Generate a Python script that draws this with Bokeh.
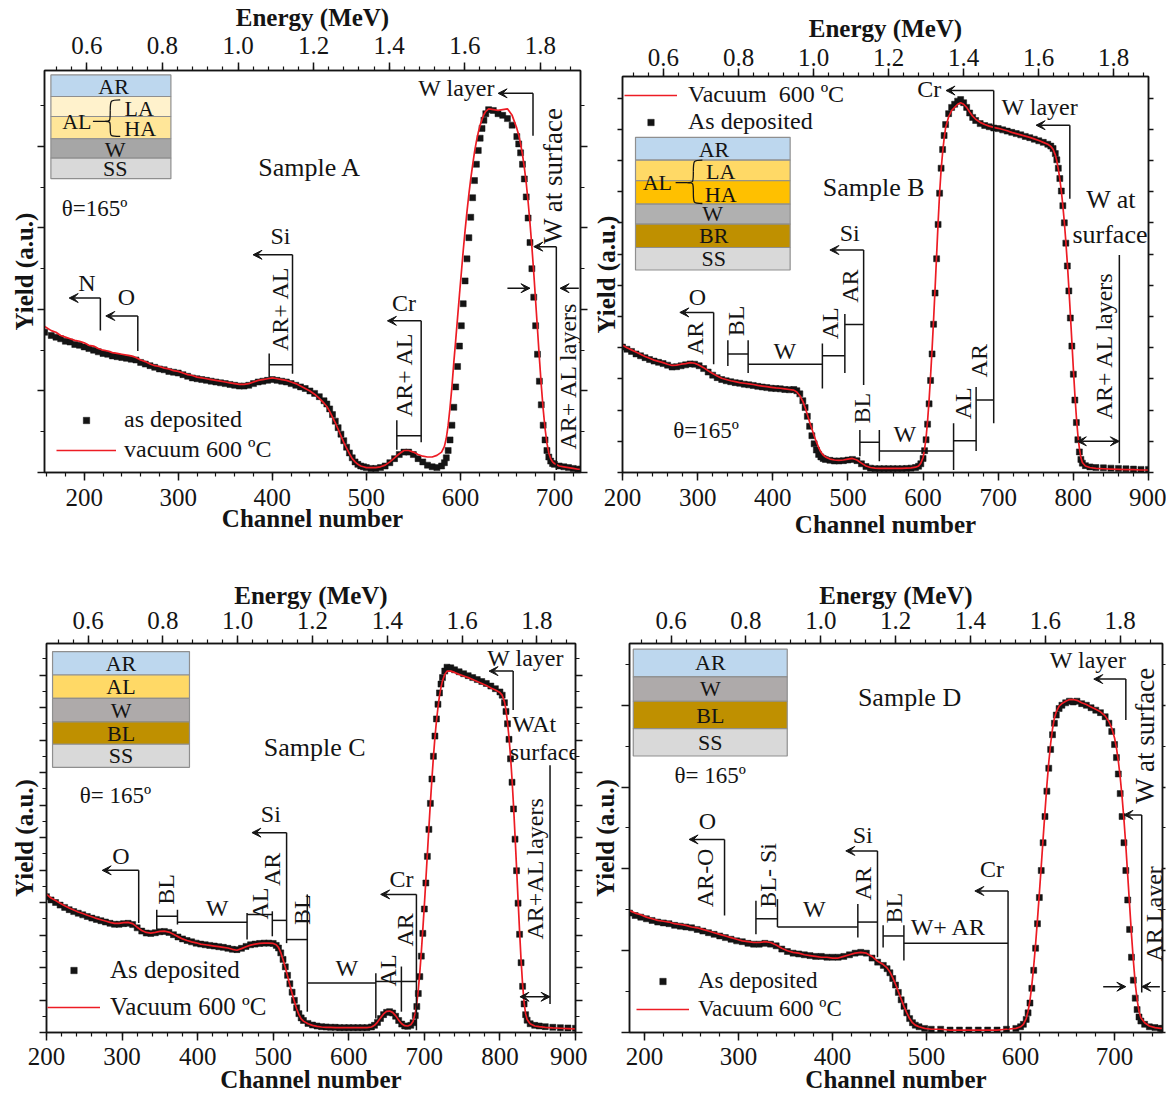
import numpy as np
from bokeh.core.properties import value
from bokeh.embed import file_html
from bokeh.layouts import column, row
from bokeh.models import (Arrow, FixedTicker, Label, Legend, LegendItem,
                          LinearAxis, PrintfTickFormatter, Range1d, VeeHead)
from bokeh.plotting import figure
from bokeh.resources import INLINE

SERIF = "Liberation Serif"
INK = "#141414"
RED = "#ed1c24"

# ---------------------------------------------------------------- axes ticks
ENERGY_TICKS = [0.6, 0.8, 1.0, 1.2, 1.4, 1.6, 1.8]
ENERGY_MINOR = [round(0.52 + 0.04 * i, 2) for i in range(35)]
CHANNEL_TICKS = [200, 300, 400, 500, 600, 700, 800, 900]
CHANNEL_MINOR = list(range(160, 901, 20))

# ---------------------------------------------------------------- Sample A
CH_A = [158, 165, 170, 175, 180, 185, 190, 195, 200, 205,
        210, 215, 220, 225, 230, 235, 240, 245, 250, 255,
        260, 265, 270, 275, 280, 285, 290, 295, 300, 305,
        310, 315, 320, 325, 330, 335, 340, 345, 350, 355,
        360, 365, 370, 375, 380, 385, 390, 395, 400, 405,
        410, 415, 420, 425, 430, 435, 440, 445, 450, 455,
        458, 461, 464, 467, 470, 473, 476, 479, 482, 485,
        488, 491, 494, 497, 500, 505, 510, 515, 520, 525,
        530, 535, 540, 545, 550, 555, 560, 565, 570, 575,
        580, 583, 585, 587, 589, 591, 593, 595, 597, 599,
        601, 603, 605, 607, 609, 611, 613, 615, 617, 619,
        621, 623, 625, 627, 630, 635, 640, 645, 650, 655,
        660, 662, 664, 666, 668, 670, 672, 674, 676, 678,
        680, 682, 684, 686, 688, 690, 692, 694, 696, 698,
        700, 705, 710, 715, 720, 725, 728]
DEP_A = [1.72, 1.68, 1.66, 1.64, 1.61, 1.60, 1.57, 1.56, 1.54, 1.52,
         1.50, 1.48, 1.46, 1.45, 1.43, 1.42, 1.41, 1.40, 1.39, 1.38,
         1.35, 1.33, 1.31, 1.29, 1.27, 1.26, 1.24, 1.23, 1.22, 1.20,
         1.18, 1.16, 1.15, 1.14, 1.13, 1.12, 1.11, 1.10, 1.09, 1.08,
         1.07, 1.06, 1.06, 1.07, 1.09, 1.11, 1.12, 1.13, 1.14, 1.13,
         1.12, 1.11, 1.09, 1.07, 1.05, 1.03, 1.00, 0.97, 0.93, 0.88,
         0.84, 0.78, 0.71, 0.63, 0.55, 0.47, 0.39, 0.31, 0.24, 0.18,
         0.13, 0.10, 0.08, 0.07, 0.06, 0.05, 0.05, 0.06, 0.08, 0.12,
         0.17, 0.22, 0.25, 0.25, 0.22, 0.17, 0.13, 0.09, 0.07, 0.06,
         0.08, 0.12, 0.18, 0.27, 0.40, 0.58, 0.80, 1.05, 1.30, 1.55,
         1.80, 2.07, 2.35, 2.62, 2.88, 3.13, 3.37, 3.58, 3.78, 3.95,
         4.10, 4.22, 4.32, 4.40, 4.45, 4.44, 4.40, 4.38, 4.34, 4.26,
         4.12, 4.03, 3.92, 3.78, 3.60, 3.38, 3.12, 2.82, 2.50, 2.15,
         1.80, 1.45, 1.12, 0.83, 0.58, 0.40, 0.27, 0.19, 0.14, 0.11,
         0.10, 0.08, 0.07, 0.06, 0.05, 0.04, 0.04]
VAC_A = [1.79, 1.74, 1.72, 1.68, 1.66, 1.64, 1.62, 1.61, 1.59, 1.56,
         1.55, 1.52, 1.50, 1.49, 1.47, 1.46, 1.45, 1.44, 1.43, 1.41,
         1.38, 1.36, 1.33, 1.31, 1.30, 1.28, 1.27, 1.25, 1.24, 1.22,
         1.20, 1.19, 1.17, 1.16, 1.15, 1.14, 1.13, 1.12, 1.11, 1.10,
         1.09, 1.08, 1.08, 1.09, 1.11, 1.13, 1.14, 1.15, 1.16, 1.15,
         1.14, 1.13, 1.11, 1.09, 1.06, 1.03, 1.00, 0.96, 0.91, 0.85,
         0.81, 0.75, 0.68, 0.61, 0.53, 0.45, 0.37, 0.30, 0.23, 0.17,
         0.13, 0.10, 0.08, 0.07, 0.06, 0.06, 0.06, 0.07, 0.09, 0.13,
         0.18, 0.23, 0.27, 0.27, 0.25, 0.22, 0.20, 0.19, 0.19, 0.21,
         0.25, 0.32, 0.42, 0.58, 0.80, 1.05, 1.35, 1.62, 1.90, 2.18,
         2.45, 2.72, 2.97, 3.20, 3.41, 3.60, 3.77, 3.93, 4.06, 4.17,
         4.26, 4.33, 4.39, 4.43, 4.46, 4.45, 4.44, 4.45, 4.46, 4.38,
         4.22, 4.14, 4.03, 3.90, 3.74, 3.55, 3.32, 3.06, 2.77, 2.45,
         2.10, 1.75, 1.40, 1.07, 0.78, 0.54, 0.36, 0.24, 0.17, 0.13,
         0.11, 0.08, 0.07, 0.06, 0.05, 0.04, 0.04]

# ---------------------------------------------------------------- Sample B
CH_B = [200, 206, 212, 218, 224, 230, 236, 242, 248, 254,
        260, 266, 272, 278, 284, 290, 296, 302, 308, 314,
        320, 326, 332, 338, 344, 350, 356, 362, 368, 374,
        380, 386, 392, 398, 404, 410, 416, 422, 428, 432,
        436, 440, 443, 446, 449, 452, 455, 458, 461, 464,
        467, 470, 476, 482, 488, 494, 500, 506, 512, 518,
        524, 530, 536, 542, 548, 554, 560, 566, 572, 578,
        584, 590, 594, 597, 600, 602, 604, 606, 608, 610,
        612, 614, 616, 618, 620, 622, 624, 626, 628, 630,
        634, 638, 642, 646, 650, 654, 658, 662, 666, 670,
        676, 682, 688, 694, 700, 706, 712, 718, 724, 730,
        736, 742, 748, 754, 760, 766, 770, 773, 776, 778,
        780, 782, 784, 786, 788, 790, 792, 794, 796, 798,
        800, 802, 804, 806, 808, 810, 812, 816, 822, 830,
        840, 850, 860, 870, 880, 890, 900]
DEP_B = [4.02, 3.95, 3.88, 3.80, 3.74, 3.68, 3.62, 3.57, 3.53, 3.49,
         3.44, 3.38, 3.39, 3.42, 3.45, 3.48, 3.47, 3.42, 3.33, 3.22,
         3.12, 3.04, 2.98, 2.94, 2.91, 2.88, 2.86, 2.83, 2.81, 2.79,
         2.76, 2.74, 2.72, 2.70, 2.69, 2.68, 2.66, 2.65, 2.66, 2.62,
         2.52, 2.30, 2.08, 1.80, 1.48, 1.18, 0.92, 0.72, 0.58, 0.50,
         0.45, 0.42, 0.39, 0.37, 0.37, 0.38, 0.40, 0.42, 0.38, 0.28,
         0.19, 0.14, 0.12, 0.12, 0.12, 0.12, 0.12, 0.12, 0.12, 0.13,
         0.14, 0.16, 0.20, 0.28, 0.45, 0.70, 1.05, 1.55, 2.20, 2.95,
         3.80, 4.75, 5.75, 6.85, 7.95, 8.95, 9.75, 10.35, 10.80, 11.15,
         11.50, 11.70, 11.80, 11.90, 11.95, 11.85, 11.70, 11.52, 11.38, 11.28,
         11.18, 11.12, 11.08, 11.04, 11.02, 10.98, 10.94, 10.90, 10.86, 10.82,
         10.77, 10.73, 10.68, 10.63, 10.58, 10.52, 10.46, 10.38, 10.22, 10.02,
         9.75, 9.42, 9.02, 8.55, 8.00, 7.35, 6.62, 5.82, 4.95, 4.05,
         3.15, 2.32, 1.60, 1.05, 0.66, 0.42, 0.30, 0.22, 0.18, 0.16,
         0.15, 0.14, 0.13, 0.12, 0.11, 0.10, 0.10]
VAC_B = [4.08, 4.00, 3.93, 3.86, 3.79, 3.72, 3.66, 3.60, 3.56, 3.52,
         3.47, 3.43, 3.44, 3.47, 3.49, 3.52, 3.50, 3.44, 3.36, 3.26,
         3.17, 3.09, 3.02, 2.98, 2.94, 2.91, 2.88, 2.86, 2.84, 2.82,
         2.79, 2.77, 2.75, 2.73, 2.71, 2.70, 2.68, 2.66, 2.64, 2.58,
         2.46, 2.28, 2.08, 1.86, 1.62, 1.40, 1.18, 0.98, 0.80, 0.66,
         0.56, 0.50, 0.43, 0.40, 0.39, 0.40, 0.43, 0.45, 0.40, 0.30,
         0.21, 0.16, 0.14, 0.13, 0.13, 0.13, 0.13, 0.13, 0.13, 0.14,
         0.15, 0.17, 0.21, 0.30, 0.48, 0.75, 1.12, 1.65, 2.32, 3.10,
         3.95, 4.90, 5.90, 6.95, 8.00, 8.95, 9.70, 10.25, 10.70, 11.05,
         11.40, 11.60, 11.70, 11.80, 11.85, 11.80, 11.70, 11.55, 11.42, 11.32,
         11.22, 11.15, 11.10, 11.06, 11.03, 10.99, 10.95, 10.90, 10.86, 10.82,
         10.78, 10.74, 10.69, 10.64, 10.58, 10.52, 10.45, 10.36, 10.18, 9.98,
         9.72, 9.40, 9.02, 8.55, 8.02, 7.40, 6.70, 5.92, 5.08, 4.20,
         3.32, 2.50, 1.78, 1.20, 0.78, 0.48, 0.32, 0.21, 0.16, 0.13,
         0.12, 0.11, 0.10, 0.09, 0.09, 0.08, 0.08]

# ---------------------------------------------------------------- Sample C
CH_C = [200, 206, 212, 218, 224, 230, 236, 242, 248, 254,
        260, 266, 272, 278, 284, 290, 296, 302, 308, 314,
        320, 326, 332, 338, 344, 350, 356, 362, 368, 374,
        380, 386, 392, 398, 404, 410, 416, 422, 428, 434,
        440, 446, 452, 458, 464, 470, 476, 482, 488, 494,
        500, 504, 507, 510, 513, 516, 519, 522, 525, 528,
        531, 534, 537, 540, 546, 552, 558, 564, 570, 576,
        582, 588, 594, 600, 606, 612, 618, 624, 630, 634,
        638, 642, 646, 650, 654, 658, 662, 666, 670, 674,
        678, 682, 685, 688, 690, 692, 694, 696, 698, 700,
        702, 704, 706, 708, 710, 712, 714, 716, 718, 720,
        722, 724, 727, 730, 735, 740, 746, 752, 758, 764,
        770, 776, 782, 788, 794, 800, 803, 806, 808, 810,
        812, 814, 816, 818, 820, 822, 824, 826, 828, 830,
        832, 834, 836, 840, 846, 852, 860, 870, 880, 890,
        900]
DEP_C = [4.18, 4.08, 4.00, 3.92, 3.85, 3.78, 3.72, 3.67, 3.62, 3.57,
         3.52, 3.48, 3.44, 3.40, 3.36, 3.33, 3.33, 3.35, 3.36, 3.32,
         3.22, 3.12, 3.06, 3.05, 3.07, 3.10, 3.11, 3.08, 3.01, 2.94,
         2.88, 2.83, 2.79, 2.75, 2.72, 2.70, 2.68, 2.66, 2.64, 2.62,
         2.59, 2.56, 2.55, 2.59, 2.65, 2.70, 2.72, 2.74, 2.75, 2.75,
         2.74, 2.68, 2.60, 2.45, 2.25, 2.02, 1.76, 1.50, 1.24, 0.99,
         0.76, 0.58, 0.45, 0.37, 0.28, 0.23, 0.20, 0.18, 0.17, 0.16,
         0.16, 0.15, 0.15, 0.15, 0.15, 0.15, 0.15, 0.15, 0.17, 0.22,
         0.31, 0.43, 0.55, 0.62, 0.64, 0.60, 0.50, 0.37, 0.26, 0.20,
         0.19, 0.22, 0.30, 0.52, 0.80, 1.20, 1.72, 2.35, 3.05, 3.80,
         4.60, 5.42, 6.25, 7.05, 7.80, 8.50, 9.12, 9.65, 10.10, 10.45,
         10.72, 10.92, 11.12, 11.24, 11.22, 11.16, 11.10, 11.04, 10.98, 10.92,
         10.86, 10.80, 10.74, 10.66, 10.58, 10.48, 10.38, 10.15, 9.88, 9.50,
         9.02, 8.42, 7.70, 6.88, 5.95, 4.98, 3.98, 3.02, 2.15, 1.42,
         0.88, 0.55, 0.38, 0.27, 0.22, 0.20, 0.18, 0.16, 0.15, 0.14,
         0.13]
VAC_C = [4.25, 4.14, 4.06, 3.98, 3.90, 3.83, 3.77, 3.71, 3.66, 3.61,
         3.56, 3.51, 3.47, 3.43, 3.39, 3.36, 3.36, 3.38, 3.39, 3.35,
         3.24, 3.14, 3.08, 3.06, 3.08, 3.11, 3.12, 3.09, 3.02, 2.95,
         2.88, 2.83, 2.79, 2.76, 2.72, 2.70, 2.68, 2.66, 2.64, 2.62,
         2.60, 2.56, 2.53, 2.58, 2.64, 2.69, 2.72, 2.74, 2.75, 2.75,
         2.74, 2.70, 2.62, 2.46, 2.24, 2.00, 1.74, 1.46, 1.20, 0.95,
         0.73, 0.55, 0.42, 0.35, 0.27, 0.22, 0.19, 0.17, 0.16, 0.16,
         0.15, 0.15, 0.15, 0.15, 0.15, 0.15, 0.15, 0.15, 0.17, 0.22,
         0.32, 0.45, 0.57, 0.65, 0.66, 0.62, 0.52, 0.38, 0.27, 0.21,
         0.20, 0.24, 0.34, 0.60, 0.90, 1.32, 1.85, 2.48, 3.18, 3.92,
         4.70, 5.50, 6.30, 7.08, 7.80, 8.48, 9.08, 9.58, 10.00, 10.36,
         10.62, 10.82, 11.02, 11.12, 11.12, 11.08, 11.02, 10.97, 10.92, 10.86,
         10.80, 10.74, 10.68, 10.60, 10.54, 10.46, 10.38, 10.18, 9.92, 9.55,
         9.08, 8.50, 7.80, 6.98, 6.05, 5.08, 4.08, 3.12, 2.22, 1.48,
         0.92, 0.58, 0.40, 0.27, 0.20, 0.18, 0.16, 0.14, 0.13, 0.12,
         0.11]

# ---------------------------------------------------------------- Sample D
CH_D = [184, 190, 196, 202, 208, 214, 220, 226, 232, 238,
        244, 250, 256, 262, 268, 274, 280, 286, 292, 298,
        304, 310, 316, 322, 328, 334, 340, 346, 352, 358,
        364, 370, 376, 382, 388, 394, 400, 406, 412, 418,
        424, 430, 436, 442, 448, 454, 458, 461, 464, 467,
        470, 473, 476, 479, 482, 485, 488, 492, 498, 505,
        515, 525, 535, 545, 555, 565, 575, 585, 595, 600,
        603, 606, 608, 610, 612, 614, 616, 618, 620, 622,
        624, 626, 628, 630, 632, 634, 636, 638, 641, 644,
        648, 652, 656, 660, 665, 670, 675, 680, 685, 690,
        694, 697, 700, 702, 704, 706, 708, 710, 712, 714,
        716, 718, 720, 722, 724, 726, 728, 732, 737, 743,
        749, 751]
DEP_D = [1.46, 1.43, 1.41, 1.39, 1.37, 1.35, 1.34, 1.33, 1.31, 1.30,
         1.29, 1.28, 1.26, 1.24, 1.22, 1.20, 1.18, 1.16, 1.14, 1.12,
         1.11, 1.09, 1.08, 1.08, 1.09, 1.08, 1.06, 1.02, 0.99, 0.97,
         0.96, 0.95, 0.94, 0.93, 0.93, 0.92, 0.92, 0.92, 0.93, 0.95,
         0.97, 0.98, 0.97, 0.91, 0.86, 0.82, 0.78, 0.73, 0.66, 0.58,
         0.49, 0.40, 0.32, 0.24, 0.17, 0.12, 0.09, 0.07, 0.05, 0.04,
         0.04, 0.03, 0.03, 0.03, 0.03, 0.03, 0.03, 0.04, 0.05, 0.07,
         0.10, 0.16, 0.24, 0.36, 0.54, 0.76, 1.03, 1.33, 1.65, 1.98,
         2.32, 2.64, 2.95, 3.23, 3.46, 3.64, 3.78, 3.88, 3.96, 4.00,
         4.03, 4.05, 4.04, 4.05, 4.02, 4.00, 3.97, 3.94, 3.91, 3.86,
         3.78, 3.68, 3.52, 3.36, 3.16, 2.92, 2.64, 2.32, 1.98, 1.62,
         1.26, 0.92, 0.64, 0.42, 0.28, 0.19, 0.14, 0.10, 0.07, 0.06,
         0.05, 0.05]
VAC_D = [1.49, 1.46, 1.44, 1.41, 1.39, 1.37, 1.36, 1.35, 1.33, 1.32,
         1.31, 1.29, 1.28, 1.26, 1.24, 1.22, 1.20, 1.18, 1.16, 1.14,
         1.12, 1.11, 1.10, 1.10, 1.11, 1.10, 1.07, 1.03, 1.00, 0.98,
         0.97, 0.95, 0.94, 0.93, 0.92, 0.92, 0.91, 0.91, 0.93, 0.95,
         0.97, 0.98, 0.97, 0.93, 0.87, 0.83, 0.79, 0.74, 0.67, 0.59,
         0.50, 0.41, 0.32, 0.24, 0.17, 0.12, 0.09, 0.07, 0.05, 0.04,
         0.04, 0.03, 0.03, 0.03, 0.03, 0.03, 0.03, 0.04, 0.05, 0.07,
         0.10, 0.17, 0.26, 0.39, 0.58, 0.81, 1.08, 1.38, 1.70, 2.03,
         2.37, 2.70, 3.02, 3.30, 3.53, 3.71, 3.84, 3.92, 3.99, 4.02,
         4.05, 4.07, 4.07, 4.06, 4.03, 4.01, 3.98, 3.95, 3.92, 3.87,
         3.80, 3.72, 3.60, 3.48, 3.32, 3.12, 2.88, 2.60, 2.28, 1.92,
         1.56, 1.20, 0.88, 0.60, 0.40, 0.26, 0.18, 0.12, 0.08, 0.06,
         0.05, 0.05]

# layer colours of the coating stacks
C_AR, C_W, C_SS = "#bdd7ee", "#aeaaaa", "#d9d9d9"
C_BL = "#bf9000"

PANELS = [
    dict(  # Sample A
        data=(CH_A, DEP_A, VAC_A), size=(588, 560), border=(44, 8, 69, 88),
        xr=(157.8, 727.7), yr=(0, 4.93), er=(0.488, 1.906),
        standoffs=dict(top=(9, 3), bottom=(8, -4), left=0),
        yticks=([0, 1, 2, 3, 4], [0.5, 1.5, 2.5, 3.5, 4.5], (7, 4)),
        legend=dict(labels=["as deposited", "vacuum 600 ºC"], order=("dep", "vac"),
                    loc=(12, 9), glyph=60, standoff=8, spacing=3, size=24),
        inset=dict(x=(164.6, 292.2), edges=[4.876, 4.611, 4.366, 4.093, 3.856, 3.603],
                   colors=[C_AR, "#fff2cc", "#ffe699", "#a6a6a6", C_SS],
                   labels=[("AR", 231.2, 4.733), ("LA", 258.5, 4.468), ("HA", 259.6, 4.223),
                           ("W", 233, 3.958), ("SS", 233, 3.733), ("AL", 192.2, 4.305)],
                   brace=dict(dash0=209.3, tip=222.3, mid=4.305, spine=227.7, end=238.3,
                              top=4.57, bot=4.121)),
        texts=[("Sample A", 440, 3.74, 26, 0), ("θ=165º", 211, 3.24, 23, 0),
               ("W layer", 596, 4.71, 24, 0), ("N", 203, 2.33, 24, 0),
               ("O", 245, 2.15, 24, 0), ("Si", 408.7, 2.9, 24, 0), ("Cr", 540, 2.08, 24, 0),
               ("AR+ AL", 408.7, 2.01, 24, 90), ("AR+ AL", 540, 1.20, 24, 90),
               ("W at surface", 698, 3.64, 27, 90), ("AR+ AL layers", 714, 1.19, 24, 90)],
        segs=[[(217.2, 2.14), (217.2, 1.74)], [(257, 1.92), (257, 1.49)],
              [(421.5, 2.67), (421.5, 1.21)], [(396.7, 1.46), (396.7, 1.17)],
              [(396.7, 1.32), (421.5, 1.32)],
              [(558.3, 1.86), (558.3, 0.37)], [(532.4, 0.64), (532.4, 0.28)],
              [(532.4, 0.45), (558.3, 0.45)],
              [(677.2, 4.65), (677.2, 4.13)], [(702, 2.77), (702, 0.03)]],
        arrows=[(217.2, 2.14, 184, 2.14, False), (257, 1.92, 223, 1.92, False),
                (421.5, 2.67, 379.5, 2.67, False), (558.3, 1.86, 522.4, 1.86, False),
                (677.2, 4.65, 640.1, 4.65, False), (702, 2.77, 678, 2.77, False),
                (725.9, 2.26, 706, 2.26, False), (650, 2.26, 674, 2.26, False)],
    ),
    dict(  # Sample B
        data=(CH_B, DEP_B, VAC_B), size=(578, 560), border=(34, 18, 76, 88),
        xr=(200, 900), yr=(0, 12.69), er=(0.4907, 1.893),
        standoffs=dict(top=(3, 4), bottom=(8, 2), left=-2),
        yticks=(list(range(0, 13)), [], (5, 0)),
        legend=dict(labels=["Vacuum\u00a0 600 ºC", "As deposited"], order=("vac", "dep"),
                    loc=(2, 337), glyph=53, standoff=11, spacing=0, size=24),
        inset=dict(x=(217.3, 423.1), edges=[10.74, 10.01, 9.35, 8.6, 7.96, 7.21, 6.49],
                   colors=[C_AR, "#ffd966", "#ffc000", "#b0b0b0", C_BL, C_SS],
                   labels=[("AR", 321.7, 10.34), ("LA", 330.7, 9.65), ("HA", 330.7, 8.9),
                           ("W", 320, 8.29), ("BR", 321.3, 7.58), ("SS", 321.3, 6.85),
                           ("AL", 246.3, 9.29)],
                   brace=dict(dash0=270.7, tip=286.3, mid=9.29, spine=294.3, end=306.3,
                              top=10.01, bot=8.62)),
        texts=[("Sample B", 534.3, 9.13, 26, 0), ("θ=165º", 311.3, 1.36, 23, 0),
               ("Cr", 608.2, 12.28, 24, 0), ("W layer", 755.4, 11.72, 24, 0),
               ("W at", 850.2, 8.74, 26, 0), ("surface", 848.7, 7.63, 26, 0),
               ("Si", 502.4, 7.69, 24, 0), ("O", 299.8, 5.63, 24, 0),
               ("W", 416, 3.88, 24, 0), ("W", 575.7, 1.24, 24, 0),
               ("AR", 296.3, 4.3, 24, 90), ("BL", 351.2, 4.86, 24, 90),
               ("AL", 476, 4.78, 24, 90), ("AR", 502.4, 5.97, 24, 90),
               ("BL", 518.4, 2.06, 24, 90), ("AL", 653, 2.22, 24, 90),
               ("AR", 674, 3.58, 24, 90), ("AR+ AL layers", 840.2, 4.08, 24, 90)],
        segs=[[(321.3, 5.13), (321.3, 3.47)],
              [(340.2, 4.24), (340.2, 3.41)], [(340.2, 3.8), (367.2, 3.8)],
              [(367.2, 4.24), (367.2, 3.19)],
              [(367.2, 3.47), (466, 3.47)], [(466, 4.13), (466, 2.69)],
              [(466, 3.74), (495.9, 3.74)], [(495.9, 5.08), (495.9, 3.19)],
              [(495.9, 4.74), (520.9, 4.74)], [(520.9, 7.13), (520.9, 2.8)],
              [(515.9, 1.36), (515.9, 0.52)], [(515.9, 0.97), (541.8, 0.97)],
              [(541.8, 1.36), (541.8, 0.36)],
              [(541.8, 0.69), (640.6, 0.69)], [(640.6, 1.58), (640.6, 0.08)],
              [(640.6, 1.02), (670.6, 1.02)], [(670.6, 2.74), (670.6, 0.69)],
              [(670.6, 2.32), (694, 2.32)], [(694, 12.24), (694, 1.58)],
              [(795.3, 11.13), (795.3, 8.77)], [(861.2, 6.97), (861.2, 0.3)]],
        arrows=[(321.3, 5.13, 276.3, 5.13, False), (520.9, 7.13, 476, 7.13, False),
                (694, 12.24, 630.6, 12.24, False), (795.3, 11.13, 750.4, 11.13, False),
                (805.3, 1.0, 861.2, 1.0, True)],
    ),
    dict(  # Sample C
        data=(CH_C, DEP_C, VAC_C), size=(587, 535), border=(46, 12, 83, 60),
        xr=(200, 900), yr=(0, 11.97), er=(0.489, 1.903),
        standoffs=dict(top=(7, 0), bottom=(7, -2), left=2),
        yticks=(list(range(0, 12)), [i + 0.5 for i in range(12)], (7, 4)),
        legend=dict(labels=["As deposited", "Vacuum 600 ºC"], order=("dep", "vac"),
                    loc=(1, 11), glyph=53, standoff=10, spacing=9, size=25),
        inset=dict(x=(208, 389.2), edges=[11.72, 11.0, 10.28, 9.56, 8.87, 8.16],
                   colors=[C_AR, "#ffd966", C_W, C_BL, C_SS],
                   labels=[("AR", 298.6, 11.36), ("AL", 298.6, 10.64), ("W", 298.6, 9.92),
                           ("BL", 298.6, 9.21), ("SS", 298.6, 8.51)]),
        texts=[("Sample C", 555, 8.78, 26, 0), ("θ= 165º", 291.1, 7.29, 23, 0),
               ("W layer", 834, 11.52, 24, 0), ("WAt", 845.4, 9.5, 24, 0),
               ("surface", 858.9, 8.63, 24, 0), ("O", 298.6, 5.43, 24, 0),
               ("W", 425.6, 3.84, 24, 0), ("Si", 496.8, 6.72, 24, 0),
               ("W", 597.4, 1.98, 24, 0), ("Cr", 669.6, 4.71, 24, 0),
               ("BL", 358.4, 4.4, 24, 90), ("AL", 482.9, 3.97, 24, 90),
               ("AR", 498.8, 5.02, 24, 90), ("BL", 537.6, 3.78, 24, 90),
               ("AL", 652.2, 1.91, 24, 90), ("AR", 674.6, 3.16, 24, 90),
               ("AR+AL layers", 846.4, 5.05, 24, 90)],
        segs=[[(322, 4.99), (322, 3.37)],
              [(345.9, 3.78), (345.9, 3.16)], [(345.9, 3.58), (373.3, 3.58)],
              [(373.3, 3.78), (373.3, 3.32)],
              [(373.3, 3.39), (465.4, 3.39)], [(465.4, 3.68), (465.4, 2.86)],
              [(465.4, 3.63), (498.8, 3.63)], [(498.8, 3.73), (498.8, 2.96)],
              [(498.8, 3.45), (517.7, 3.45)], [(517.7, 6.15), (517.7, 2.75)],
              [(517.7, 2.86), (545.1, 2.86)], [(545.1, 4.25), (545.1, 0.64)],
              [(545.1, 1.52), (635.8, 1.52)], [(635.8, 1.82), (635.8, 0.43)],
              [(635.8, 1.57), (669.6, 1.57)], [(669.6, 2.03), (669.6, 0.64)],
              [(669.6, 1.57), (689.5, 1.57)], [(689.5, 4.25), (689.5, 0.07)],
              [(817.5, 11.12), (817.5, 9.92)], [(866.3, 8.22), (866.3, 0.88)]],
        arrows=[(322, 4.99, 273.7, 4.99, False), (517.7, 6.15, 471.9, 6.15, False),
                (689.5, 4.25, 642.2, 4.25, False), (817.5, 11.12, 785.6, 11.12, False),
                (826.5, 1.1, 866.3, 1.1, True)],
    ),
    dict(  # Sample D
        data=(CH_D, DEP_D, VAC_D), size=(579, 535), border=(42, 4, 83, 60),
        xr=(184, 751), yr=(0, 4.755), er=(0.489, 1.913),
        standoffs=dict(top=(7, 0), bottom=(7, -2), left=3),
        yticks=([0, 1, 2, 3, 4], [0.5, 1.5, 2.5, 3.5, 4.5], (8, 4)),
        legend=dict(labels=["As deposited", "Vacuum 600 ºC"], order=("dep", "vac"),
                    loc=(7, 10), glyph=53, standoff=9, spacing=2, size=23),
        inset=dict(x=(188, 351.8), edges=[4.686, 4.347, 4.049, 3.714, 3.38],
                   colors=[C_AR, C_W, C_BL, C_SS],
                   labels=[("AR", 270, 4.52), ("W", 270, 4.2), ("BL", 270, 3.88),
                           ("SS", 270, 3.55)]),
        texts=[("Sample D", 481.9, 4.1, 26, 0), ("θ= 165º", 269.9, 3.14, 23, 0),
               ("W layer", 671.9, 4.55, 24, 0), ("O", 267, 2.59, 24, 0),
               ("W", 380.7, 1.51, 24, 0), ("Si", 432.1, 2.42, 24, 0),
               ("W+ AR", 523.3, 1.29, 24, 0), ("Cr", 569.5, 2.0, 24, 0),
               ("AR-O", 264.3, 1.89, 24, 90), ("BL- Si", 331.7, 1.92, 24, 90),
               ("AR", 432.1, 1.82, 24, 90), ("BL", 465, 1.52, 24, 90),
               ("W at surface", 732.1, 3.63, 27, 90), ("AR Layer", 742.2, 1.45, 24, 90)],
        segs=[[(285.1, 2.36), (285.1, 1.43)],
              [(318.5, 1.61), (318.5, 1.2)], [(318.5, 1.39), (341.4, 1.39)],
              [(341.4, 1.63), (341.4, 1.29)],
              [(341.4, 1.29), (426.9, 1.29)], [(426.9, 1.57), (426.9, 1.16)],
              [(426.9, 1.35), (447.8, 1.35)], [(447.8, 2.22), (447.8, 0.92)],
              [(453.8, 1.31), (453.8, 1.04)], [(453.8, 1.18), (475.9, 1.18)],
              [(475.9, 1.31), (475.9, 0.88)],
              [(475.9, 1.09), (586.7, 1.09)], [(586.7, 1.73), (586.7, 0.04)],
              [(712, 4.32), (712, 3.82)], [(728.9, 2.66), (728.9, 0.49)]],
        arrows=[(285.1, 2.36, 247.4, 2.36, False), (447.8, 2.22, 414.1, 2.22, False),
                (586.7, 1.73, 551.4, 1.73, False), (712, 4.32, 677.9, 4.32, False),
                (728.9, 2.66, 710, 2.66, False), (687.9, 0.56, 712, 0.56, False),
                (748.2, 0.56, 728.9, 0.56, False)],
    ),
]


def style_axis(ax, major, minor, out, show_labels, label_standoff=0,
               title=None, title_standoff=0):
    ax.ticker = FixedTicker(ticks=list(major), minor_ticks=list(minor))
    ax.axis_line_color = INK
    ax.axis_line_width = 1.5
    ax.major_tick_line_color = INK
    ax.major_tick_line_width = 1.5
    ax.minor_tick_line_color = INK
    ax.minor_tick_line_width = 1.2
    ax.major_tick_out, ax.major_tick_in = out[0], 0
    ax.minor_tick_out, ax.minor_tick_in = out[1], 0
    ax.major_label_text_font = SERIF
    ax.major_label_standoff = label_standoff
    if show_labels:
        ax.major_label_text_font_size = "25px"
        ax.major_label_text_color = INK
    else:
        # tick marks only: the label text is never painted
        ax.major_label_text_font_size = "1px"
        ax.major_label_text_color = None
    if title:
        ax.axis_label = title
        ax.axis_label_text_font = SERIF
        ax.axis_label_text_font_style = "bold"
        ax.axis_label_text_font_size = "25px"
        ax.axis_label_text_color = INK
        ax.axis_label_standoff = title_standoff


def text_label(txt, x, y, size, rot=0):
    return Label(x=x, y=y, text=txt, angle=np.deg2rad(rot),
                 text_font=SERIF, text_font_size=f"{size}px",
                 text_align="center", text_baseline="middle", text_color=INK)


def draw_brace(p, b):
    up = (b["top"] + b["mid"]) / 2
    dn = (b["mid"] + b["bot"]) / 2
    s = b["spine"]
    p.bezier(x0=[b["end"], s, b["tip"], s], y0=[b["top"], up, b["mid"], dn],
             x1=[s, b["tip"], s, b["end"]], y1=[up, b["mid"], dn, b["bot"]],
             cx0=[s] * 4, cy0=[b["top"], b["mid"], b["mid"], b["bot"]],
             cx1=[s] * 4, cy1=[b["top"], b["mid"], b["mid"], b["bot"]],
             line_color=INK, line_width=1.3)
    p.line(x=[b["dash0"], b["tip"]], y=[b["mid"], b["mid"]], line_color=INK, line_width=1.3)


def make_panel(cfg):
    w, h = cfg["size"]
    bl, br, bt, bb = cfg["border"]
    p = figure(width=w, height=h, title=None,
               x_range=Range1d(*cfg["xr"]), y_range=Range1d(*cfg["yr"]),
               min_border_left=bl, min_border_right=br,
               min_border_top=bt, min_border_bottom=bb, frame_align=False,
               output_backend="svg", toolbar_location=None)
    p.grid.visible = False
    p.outline_line_color = INK
    p.outline_line_width = 1.5
    p.background_fill_color = "white"
    p.border_fill_color = "white"

    st = cfg["standoffs"]
    ymaj, ymin, yout = cfg["yticks"]
    style_axis(p.below[0], CHANNEL_TICKS, CHANNEL_MINOR, (8, 4), True,
               label_standoff=st["bottom"][0], title="Channel number",
               title_standoff=st["bottom"][1])
    style_axis(p.left[0], ymaj, ymin, yout, False, title="Yield (a.u.)",
               title_standoff=st["left"])

    p.extra_x_ranges = {"energy": Range1d(*cfg["er"])}
    top = LinearAxis(x_range_name="energy")
    style_axis(top, ENERGY_TICKS, ENERGY_MINOR, (8, 4), True,
               label_standoff=st["top"][0], title="Energy (MeV)",
               title_standoff=st["top"][1])
    top.formatter = PrintfTickFormatter(format="%.1f")
    p.add_layout(top, "above")
    right = LinearAxis()
    rout = (min(yout[0], max(br - 1, 1)), min(yout[1], max(br - 1, 1)))
    style_axis(right, ymaj, ymin, rout, False)
    p.add_layout(right, "right")

    # coating stack sketch
    ins = cfg["inset"]
    x0, x1 = ins["x"]
    edges = ins["edges"]
    n = len(ins["colors"])
    p.quad(left=[x0] * n, right=[x1] * n, top=edges[:-1], bottom=edges[1:],
           fill_color=ins["colors"], line_color="#8f8f8f", line_width=1.2)
    for txt, x, y in ins["labels"]:
        p.add_layout(text_label(txt, x, y, 22))
    if "brace" in ins:
        draw_brace(p, ins["brace"])

    # spectra
    ch, dep, vac = cfg["data"]
    r_dep = p.scatter(x=ch, y=dep, marker="square", size=6, fill_color=INK,
                      line_color=INK, line_width=0.5)
    r_vac = p.line(x=ch, y=vac, line_color=RED, line_width=1.7)

    # layer markers
    p.multi_line(xs=[[a[0] for a in s] for s in cfg["segs"]],
                 ys=[[a[1] for a in s] for s in cfg["segs"]],
                 line_color=INK, line_width=1.5)
    for xa, ya, xb, yb, both in cfg["arrows"]:
        head = dict(size=9, fill_color=INK, line_color=INK, line_width=1)
        p.add_layout(Arrow(x_start=xa, y_start=ya, x_end=xb, y_end=yb,
                           end=VeeHead(**head), start=VeeHead(**head) if both else None,
                           line_color=INK, line_width=1.5))
    for txt, x, y, size, rot in cfg["texts"]:
        p.add_layout(text_label(txt, x, y, size, rot))

    lg = cfg["legend"]
    rend = {"dep": r_dep, "vac": r_vac}
    items = [LegendItem(label=value(lab), renderers=[rend[key]])
             for lab, key in zip(lg["labels"], lg["order"])]
    legend = Legend(items=items, location=lg["loc"], orientation="vertical",
                    label_text_font=SERIF, label_text_font_size=f"{lg['size']}px",
                    label_text_color=INK, glyph_width=lg["glyph"], glyph_height=16,
                    label_standoff=lg["standoff"], spacing=lg["spacing"],
                    padding=0, margin=0, border_line_color=None,
                    background_fill_alpha=0)
    p.add_layout(legend)
    return p


pa, pb, pc, pd = [make_panel(c) for c in PANELS]
layout = column(row(pa, pb), row(pc, pd))
open("out.html", "w").write(file_html(layout, INLINE))
